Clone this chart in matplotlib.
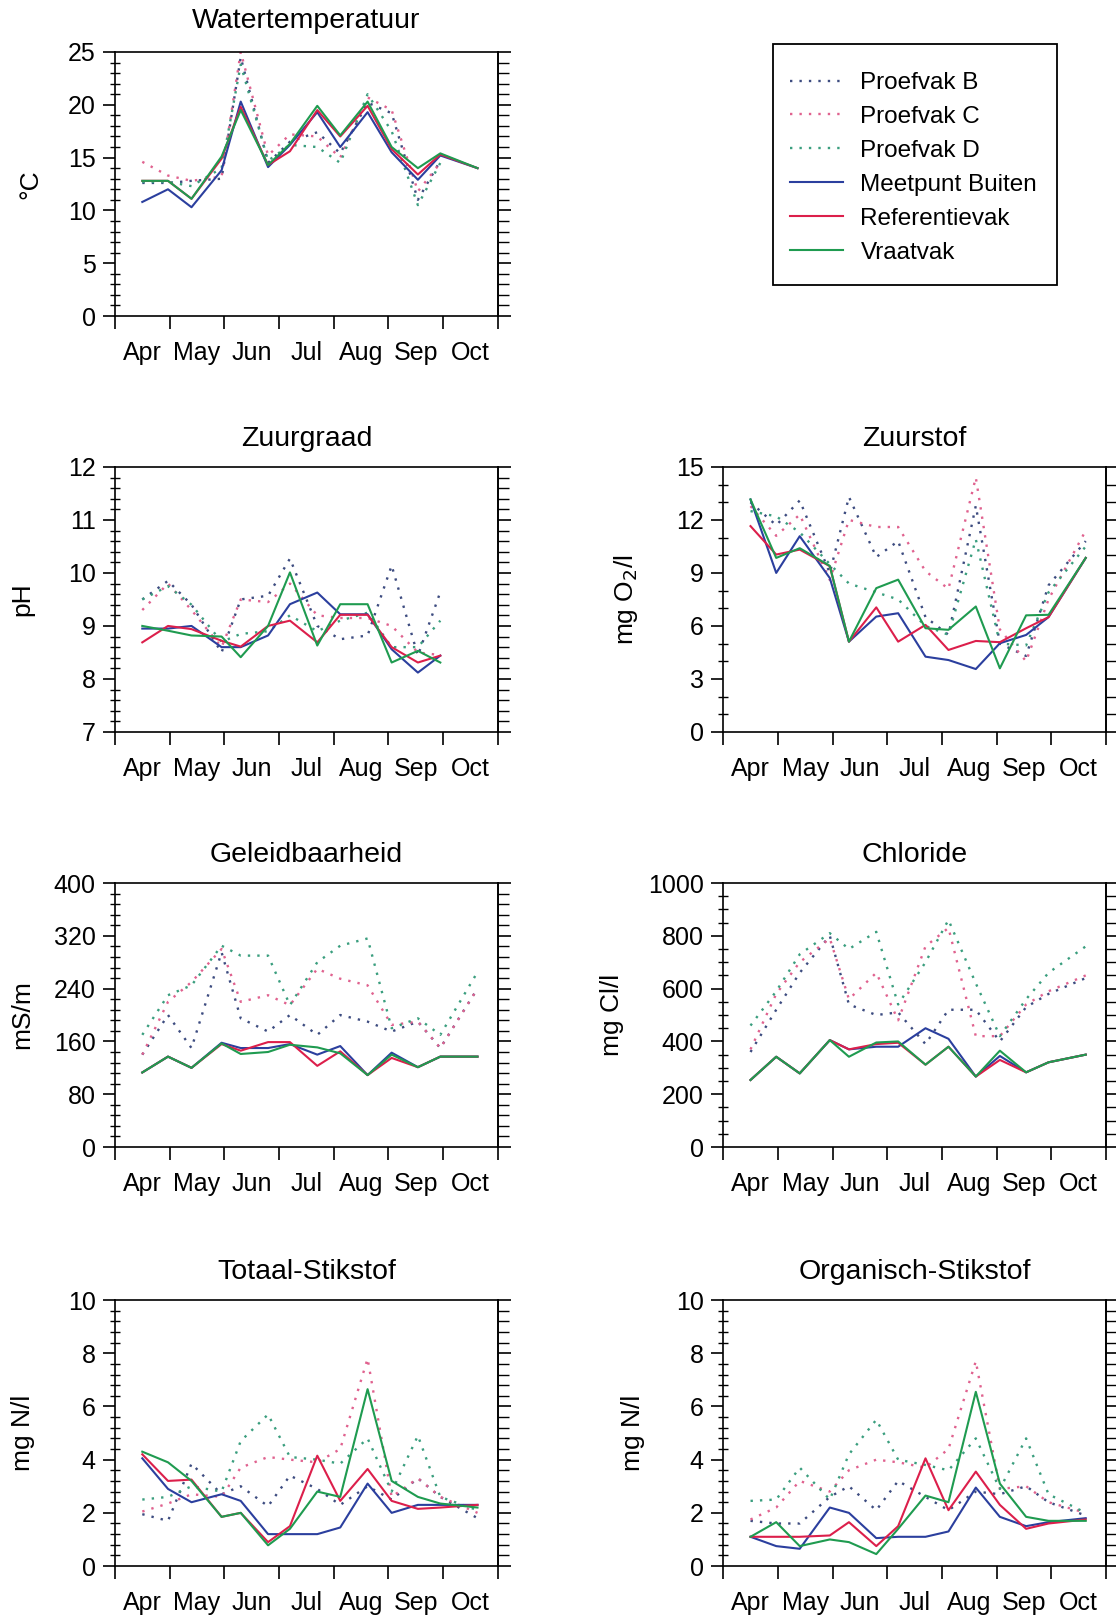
import matplotlib
matplotlib.use('Agg')
import matplotlib.pyplot as plt
from matplotlib.ticker import MultipleLocator, FixedLocator, NullFormatter
from matplotlib.lines import Line2D
from matplotlib.patches import Rectangle

plt.rcParams['font.family'] = ['Liberation Sans', 'DejaVu Sans']

months = ['Apr', 'May', 'Jun', 'Jul', 'Aug', 'Sep', 'Oct']
# sample dates in months after 1 April
sample_t = [0.5, 0.97, 1.4, 1.95, 2.3, 2.8, 3.2, 3.7, 4.12, 4.62, 5.06, 5.54, 5.95, 6.63]

names = ['Proefvak B', 'Proefvak C', 'Proefvak D', 'Meetpunt Buiten', 'Referentievak', 'Vraatvak']

# Watertemperatuur (deg C)
temp_B = [12.6, 12.6, 12.8, 13.0, 24.5, 14.5, 16.5, 17.4, 15.4, 20.2, 19.2, 11.0, 14.7]
temp_C = [14.6, 13.3, 12.8, 13.2, 25.0, 15.2, 17.2, 17.0, 15.0, 20.7, 19.5, 11.8, 14.5]
temp_D = [12.7, 12.7, 12.3, 14.0, 23.8, 14.7, 16.2, 16.0, 14.5, 21.0, 17.5, 10.5, 14.5]
temp_meet = [10.8, 12.0, 10.3, 13.8, 20.3, 14.1, 16.2, 19.3, 16.0, 19.3, 15.5, 12.9, 15.2, 14.0]
temp_ref = [12.8, 12.8, 11.1, 14.9, 19.8, 14.3, 15.6, 19.5, 17.0, 19.9, 15.8, 13.4, 15.3, 14.0]
temp_vraat = [12.8, 12.8, 11.1, 15.1, 19.5, 14.3, 16.3, 19.9, 17.1, 20.3, 16.0, 14.0, 15.4, 14.0]

# Zuurgraad (pH)
ph_B = [9.5, 9.85, 9.4, 8.5, 9.5, 9.57, 10.27, 9.0, 8.75, 8.82, 10.14, 8.44, 9.64]
ph_C = [9.3, 9.8, 9.3, 8.6, 9.5, 9.45, 9.8, 9.2, 9.15, 9.15, 9.0, 8.5, 8.45]
ph_D = [9.5, 9.75, 9.4, 8.7, 8.85, 8.9, 9.2, 8.9, 9.1, 9.25, 8.6, 8.6, 9.1]
ph_meet = [8.95, 8.95, 9.0, 8.6, 8.6, 8.82, 9.41, 9.63, 9.22, 9.22, 8.56, 8.12, 8.44]
ph_ref = [8.69, 9.0, 8.94, 8.72, 8.61, 9.0, 9.1, 8.69, 9.21, 9.21, 8.6, 8.31, 8.44]
ph_vraat = [9.0, 8.91, 8.82, 8.8, 8.41, 9.0, 10.01, 8.63, 9.41, 9.41, 8.31, 8.53, 8.31]

# Zuurstof (mg O2/l)
o2_B = [13.0, 11.7, 13.1, 9.0, 13.3, 9.9, 10.8, 6.5, 5.5, 12.8, 5.0, 4.3, 8.3, 10.8]
o2_C = [12.78, 11.1, 12.3, 8.6, 12.0, 11.6, 11.6, 9.1, 8.1, 14.4, 5.8, 4.0, 7.5, 11.4]
o2_D = [12.5, 12.2, 11.3, 9.5, 8.4, 7.9, 7.5, 6.0, 5.5, 10.9, 5.0, 4.9, 7.9, 10.5]
o2_meet = [13.16, 9.0, 11.08, 8.71, 5.11, 6.53, 6.72, 4.26, 4.07, 3.56, 5.02, 5.49, 6.5, 9.85]
o2_ref = [11.65, 10.04, 10.32, 9.38, 5.11, 7.05, 5.11, 6.06, 4.64, 5.15, 5.08, 5.87, 6.5, 9.85]
o2_vraat = [13.16, 9.85, 10.4, 9.4, 5.11, 8.14, 8.62, 5.87, 5.78, 7.1, 3.6, 6.6, 6.63, 9.85]

# Geleidbaarheid (mS/m)
ec_B = [140, 200, 150, 295, 195, 175, 200, 170, 200, 190, 175, 190, 150, 240]
ec_C = [140, 220, 250, 300, 220, 230, 215, 270, 255, 245, 185, 190, 150, 240]
ec_D = [170, 230, 245, 305, 290, 290, 215, 280, 305, 316, 180, 195, 170, 265]
ec_meet = [113, 137, 120, 158, 150, 150, 156, 140, 153, 109, 143, 121, 137, 137]
ec_ref = [113, 137, 120, 156, 146, 159, 159, 123, 145, 109, 135, 121, 137, 137]
ec_vraat = [113, 137, 120, 157, 141, 144, 155, 151, 142, 109, 140, 121, 137, 137]

# Chloride (mg Cl/l)
cl_B = [360, 520, 660, 800, 540, 500, 510, 390, 520, 520, 400, 530, 580, 640]
cl_C = [370, 580, 700, 790, 560, 660, 480, 760, 830, 420, 420, 540, 590, 650]
cl_D = [460, 590, 730, 810, 750, 815, 540, 700, 860, 620, 420, 560, 660, 760]
cl_meet = [254, 342, 279, 405, 370, 380, 380, 450, 410, 267, 345, 283, 321, 350]
cl_ref = [254, 342, 279, 405, 370, 390, 395, 312, 380, 267, 330, 283, 321, 350]
cl_vraat = [254, 342, 279, 405, 342, 396, 400, 312, 380, 267, 365, 283, 321, 350]

# Totaal-Stikstof (mg N/l)
tn_B = [1.95, 1.7, 3.85, 2.7, 3.0, 2.25, 3.4, 2.9, 2.3, 3.0, 2.5, 3.3, 2.6, 1.8]
tn_C = [2.05, 2.35, 2.7, 2.6, 3.7, 4.1, 4.0, 3.9, 4.4, 7.8, 2.6, 3.3, 2.6, 2.0]
tn_D = [2.5, 2.6, 3.0, 2.8, 4.7, 5.7, 4.1, 4.0, 3.85, 4.8, 2.8, 4.9, 2.6, 2.1]
tn_meet = [4.05, 2.9, 2.4, 2.7, 2.45, 1.2, 1.2, 1.2, 1.45, 3.1, 2.0, 2.3, 2.3, 2.3]
tn_ref = [4.2, 3.2, 3.25, 1.85, 2.0, 0.9, 1.5, 4.15, 2.45, 3.65, 2.45, 2.15, 2.2, 2.3]
tn_vraat = [4.3, 3.9, 3.2, 1.85, 2.0, 0.78, 1.4, 2.8, 2.6, 6.65, 3.2, 2.6, 2.35, 2.2]

# Organisch-Stikstof (mg N/l)
on_B = [1.7, 1.6, 1.6, 2.6, 3.0, 2.1, 3.2, 2.6, 2.1, 2.8, 2.7, 3.0, 2.4, 1.9]
on_C = [1.75, 2.2, 3.2, 2.8, 3.6, 4.0, 3.9, 3.7, 4.4, 7.7, 2.9, 3.0, 2.4, 2.0]
on_D = [2.45, 2.5, 3.7, 2.5, 4.2, 5.5, 4.0, 3.8, 3.6, 4.8, 2.9, 4.8, 2.7, 2.0]
on_meet = [1.1, 0.75, 0.65, 2.2, 2.0, 1.05, 1.1, 1.1, 1.3, 2.95, 1.85, 1.5, 1.65, 1.8]
on_ref = [1.1, 1.1, 1.1, 1.15, 1.65, 0.75, 1.5, 4.05, 2.1, 3.55, 2.3, 1.4, 1.6, 1.75]
on_vraat = [1.1, 1.65, 0.75, 1.0, 0.9, 0.45, 1.4, 2.65, 2.4, 6.55, 3.1, 1.85, 1.7, 1.7]

colors = ['#3d4c80', '#e0628f', '#3a9e7e', '#2b3f9e', '#dc1f4b', '#1f9b50']
styles = [(0, (1, 3))] * 3 + ['-'] * 3
widths = [1.7] * 3 + [1.5] * 3

fig = plt.figure(figsize=(11.16, 16.19), dpi=100)


def panel(pos, title, ylabel, ylim, major, minor, series, label_x, title_pad=15):
    ax = fig.add_axes(pos)
    for y, c, ls, lw in zip(series, colors, styles, widths):
        ax.plot(sample_t[:len(y)], y, color=c, linestyle=ls, linewidth=lw)
    ax.set_xlim(0, 7)
    ax.set_ylim(*ylim)
    ax.set_title(title, fontsize=20.5, pad=title_pad)
    ax.set_ylabel(ylabel, fontsize=19)
    ax.yaxis.set_label_coords(label_x, 0.5)

    # month boundaries as ticks, names centred between them
    ax.xaxis.set_major_locator(FixedLocator(range(8)))
    ax.xaxis.set_major_formatter(NullFormatter())
    ax.xaxis.set_minor_locator(FixedLocator([i + 0.5 for i in range(7)]))
    ax.set_xticklabels(months, minor=True)
    ax.tick_params(axis='x', which='major', direction='out', length=9, width=1.2)
    ax.tick_params(axis='x', which='minor', length=0, pad=18, labelsize=18)

    ax.yaxis.set_major_locator(MultipleLocator(major))
    ax.yaxis.set_minor_locator(MultipleLocator(minor))
    ax.tick_params(axis='y', which='major', direction='out', length=9, width=1.2,
                   pad=5, labelsize=18)
    ax.tick_params(axis='y', which='minor', direction='inout', length=7, width=1.0)

    sec = ax.secondary_yaxis('right')
    sec.yaxis.set_major_locator(MultipleLocator(major))
    sec.yaxis.set_minor_locator(MultipleLocator(minor))
    sec.yaxis.set_major_formatter(NullFormatter())
    sec.tick_params(axis='y', which='major', direction='out', length=9, width=1.2)
    sec.tick_params(axis='y', which='minor', direction='out', length=8, width=1.0)
    for sp in list(ax.spines.values()) + list(sec.spines.values()):
        sp.set_linewidth(1.2)
    return ax


L, R, W = 0.103, 0.648, 0.343
panel([L, 0.8048, W, 0.1631], 'Watertemperatuur', '°C', (0, 25), 5, 1,
      [temp_B, temp_C, temp_D, temp_meet, temp_ref, temp_vraat], -0.19, title_pad=17)
panel([L, 0.5479, W, 0.1637], 'Zuurgraad', 'pH', (7, 12), 1, 0.2,
      [ph_B, ph_C, ph_D, ph_meet, ph_ref, ph_vraat], -0.21)
panel([R, 0.5479, W, 0.1637], 'Zuurstof', 'mg O$_2$/l', (0, 15), 3, 1,
      [o2_B, o2_C, o2_D, o2_meet, o2_ref, o2_vraat], -0.216)
panel([L, 0.2915, W, 0.1631], 'Geleidbaarheid', 'mS/m', (0, 400), 80, 16,
      [ec_B, ec_C, ec_D, ec_meet, ec_ref, ec_vraat], -0.21)
panel([R, 0.2915, W, 0.1631], 'Chloride', 'mg Cl/l', (0, 1000), 200, 50,
      [cl_B, cl_C, cl_D, cl_meet, cl_ref, cl_vraat], -0.26)
panel([L, 0.0327, W, 0.1643], 'Totaal-Stikstof', 'mg N/l', (0, 10), 2, 0.4,
      [tn_B, tn_C, tn_D, tn_meet, tn_ref, tn_vraat], -0.21)
panel([R, 0.0327, W, 0.1643], 'Organisch-Stikstof', 'mg N/l', (0, 10), 2, 0.4,
      [on_B, on_C, on_D, on_meet, on_ref, on_vraat], -0.203)

# legend: frame drawn separately so the padding can match the original
fw, fh = 1116, 1619
fig.patches.append(Rectangle((773 / fw, 1 - 285 / fh), 284 / fw, 241 / fh,
                             transform=fig.transFigure, fill=False,
                             edgecolor='black', linewidth=1.3))
handles = [Line2D([], [], color=c, linestyle=ls, linewidth=lw)
           for c, ls, lw in zip(colors, styles, widths)]
fig.legend(handles, names, loc='upper left', bbox_to_anchor=(790 / fw, 1 - 72 / fh),
           frameon=False, fontsize=17.5, handlelength=2.2, handletextpad=0.7,
           labelspacing=0.49, borderpad=0, borderaxespad=0)

fig.savefig('out.png', dpi=100)
